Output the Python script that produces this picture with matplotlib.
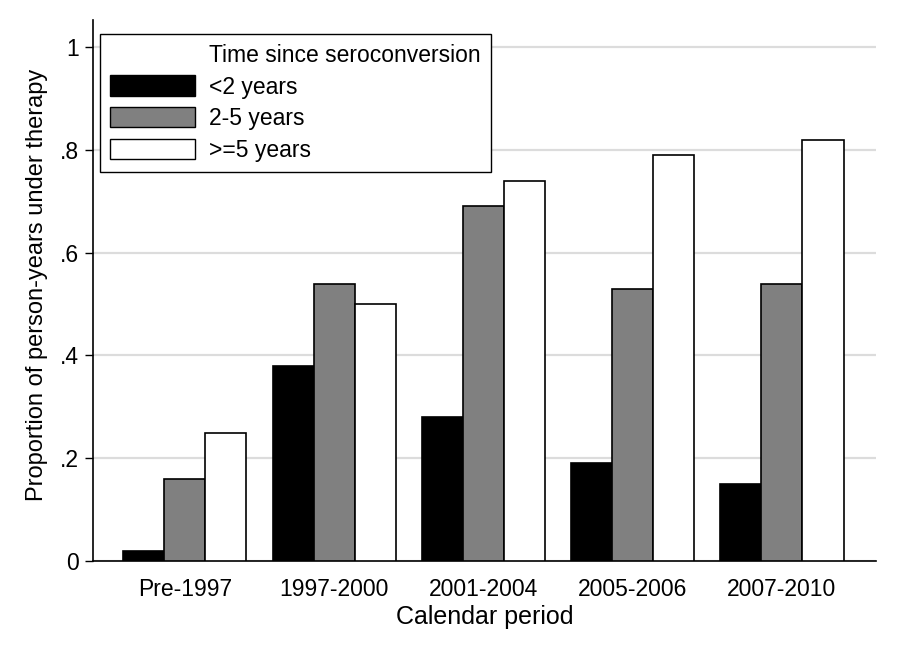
import numpy as np
import matplotlib.pyplot as plt
from matplotlib.patches import Patch

plt.rcParams['font.family'] = ['Liberation Sans', 'DejaVu Sans']

# data
periods = ["Pre-1997", "1997-2000", "2001-2004", "2005-2006", "2007-2010"]
lt2 = [0.02, 0.38, 0.28, 0.19, 0.15]
y2to5 = [0.16, 0.54, 0.69, 0.53, 0.54]
ge5 = [0.25, 0.50, 0.74, 0.79, 0.82]
series_labels = ["<2 years", "2-5 years", ">=5 years"]
series_colors = ["black", "#808080", "white"]
legend_title = "Time since seroconversion"
yticks = [0, 0.2, 0.4, 0.6, 0.8, 1.0]
ytick_labels = ["0", ".2", ".4", ".6", ".8", "1"]

FS = 16.5

fig = plt.figure(figsize=(8.99, 6.53), dpi=100)
ax = fig.add_axes([0.1034, 0.1409, 0.8710, 0.8285])

x = np.arange(1, len(periods) + 1)
w = 0.275
for i, (vals, col) in enumerate(zip([lt2, y2to5, ge5], series_colors)):
    ax.bar(x + (i - 1) * w, vals, width=w, color=col, edgecolor="black",
           linewidth=1.2, zorder=3)

ax.set_xlim(0.384, 5.63)
ax.set_ylim(0, 1.053)
ax.set_yticks(yticks)
ax.set_yticklabels(ytick_labels)
ax.set_xticks(x)
ax.set_xticklabels(periods)
ax.tick_params(axis="x", length=0, pad=12, labelsize=FS)
ax.tick_params(axis="y", length=6, width=1, pad=4, labelsize=FS)
ax.grid(axis="y", color="#dcdcdc", linewidth=1.6, zorder=0)
ax.set_axisbelow(True)
for s in ["top", "right"]:
    ax.spines[s].set_visible(False)
for s in ["left", "bottom"]:
    ax.spines[s].set_linewidth(1.2)

ax.set_xlabel("Calendar period", fontsize=18, labelpad=3)
ax.set_ylabel("Proportion of person-years under therapy", fontsize=17, labelpad=4)
ax.yaxis.set_label_coords(-0.057, 0.51)

handles = [Patch(facecolor="none", edgecolor="none")]
handles += [Patch(facecolor=c, edgecolor="black", linewidth=1.0) for c in series_colors]
leg = ax.legend(handles, [legend_title] + series_labels, loc="upper left",
                bbox_to_anchor=(0.0089, 0.975), borderaxespad=0, fontsize=FS,
                handlelength=3.7, handleheight=1.0, handletextpad=0.6,
                labelspacing=0.37, borderpad=0.45, fancybox=False,
                framealpha=1, edgecolor="black")
leg.get_frame().set_linewidth(1.0)

fig.savefig("out.png", dpi=100)
